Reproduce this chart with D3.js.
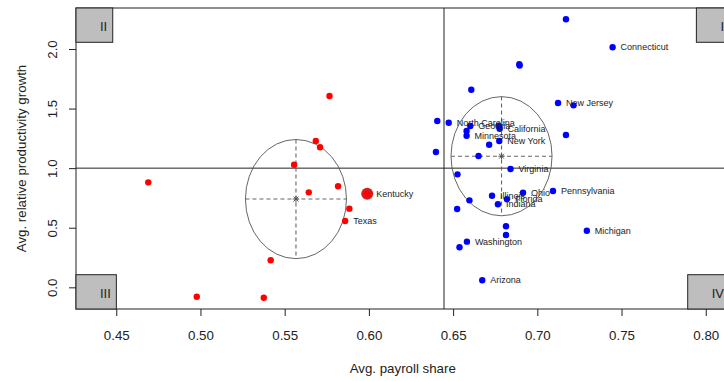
<!DOCTYPE html>
<html>
<head>
  <meta charset="UTF-8">
  <title>Payroll share vs productivity growth</title>
  <script src="https://cdn.jsdelivr.net/npm/d3@7"></script>
  <style>
    body { margin: 0; background: #fff; }
    svg { display: block; font-family: "Liberation Sans", Arial, sans-serif; }
  </style>
</head>
<body>

<div class="chart"></div>

<script>

  // high payroll share group (blue)
  var blueNames = ['', 'Connecticut', '', '', '', 'New Jersey', '', '', '', 'North Carolina',
    'Georgia', '', 'Minnesota', '', 'California', 'New York', '', '', '', 'Virginia',
    '', 'Ohio', 'Pennsylvania', 'Illinois', '', 'Florida', 'Indiana', '', '', '',
    'Washington', '', 'Arizona', 'Michigan'];
  var blueShare = [0.7170, 0.7447, 0.6893, 0.6895, 0.6608, 0.7123, 0.7215, 0.7170, 0.6406, 0.6474,
    0.6602, 0.6580, 0.6580, 0.6770, 0.6776, 0.6774, 0.6714, 0.6398, 0.6651, 0.6841,
    0.6526, 0.6915, 0.7093, 0.6731, 0.6597, 0.6820, 0.6766, 0.6524, 0.6814, 0.6814,
    0.6582, 0.6538, 0.6673, 0.7294];
  var blueGrowth = [2.249, 2.014, 1.872, 1.862, 1.658, 1.547, 1.527, 1.278, 1.396, 1.381,
    1.354, 1.312, 1.272, 1.356, 1.331, 1.228, 1.197, 1.136, 1.102, 0.993,
    0.948, 0.794, 0.808, 0.769, 0.730, 0.739, 0.697, 0.657, 0.512, 0.439,
    0.383, 0.336, 0.059, 0.475];

  // low payroll share group (red)
  var redNames = ['', '', '', '', '', '', '', '', '', '', '', 'Texas', 'Kentucky'];
  var redShare = [0.4690, 0.4978, 0.5376, 0.5417, 0.5556, 0.5643, 0.5685, 0.5710, 0.5766, 0.5817,
    0.5884, 0.5859, 0.5990];
  var redGrowth = [0.881, -0.079, -0.087, 0.227, 1.029, 0.797, 1.228, 1.175, 1.606, 0.848,
    0.660, 0.556, 0.786];

  var highlight = 'Kentucky';

  var xTicks = [0.45, 0.50, 0.55, 0.60, 0.65, 0.70, 0.75, 0.80];
  var yTicks = [0.0, 0.5, 1.0, 1.5, 2.0];
  var quadrants = ['I', 'II', 'III', 'IV'];

  var refShare = 0.6446;
  var refGrowth = 1.0;
  // ellipse half axes around each group mean
  var spreadShare = 0.03;
  var spreadGrowth = 0.5;

  var W = 724, H = 381;
  var plot = { left: 76, top: 8, right: 729.5, bottom: 309 };
  var ink = '#222';

  var svg = d3.select('.chart')
    .append('svg')
      .attr('width', W)
      .attr('height', H);

  svg.append('rect').attr('width', W).attr('height', H).attr('fill', '#fff');

  var x = d3.scaleLinear().domain([0.4261, 0.8141]).range([plot.left, plot.right]);
  var y = d3.scaleLinear().domain([-0.182, 2.344]).range([plot.bottom, plot.top]);

  function toPoints(names, share, growth) {
    return names.map((n, i) => ({ name: n, share: share[i], growth: growth[i] }));
  }
  var groups = [
    { color: '#ff0000', pts: toPoints(redNames, redShare, redGrowth) },
    { color: '#0000ff', pts: toPoints(blueNames, blueShare, blueGrowth) }
  ];

  // X axis
  svg.append('g')
      .attr('transform', `translate(0, ${plot.bottom})`)
    .call(d3.axisBottom(x).tickValues(xTicks).tickSize(7).tickFormat(d3.format('.2f')))
      .attr('font-family', null)
      .attr('font-size', 13.3)
      .attr('color', ink)
    .call(g => g.select('.domain').remove())
    .call(g => g.selectAll('text').attr('y', 31).attr('dy', null));

  // Y axis, labels turned like R does
  svg.append('g')
      .attr('transform', `translate(${plot.left}, 0)`)
    .call(d3.axisLeft(y).tickValues(yTicks).tickSize(7).tickFormat(d3.format('.1f')))
      .attr('font-family', null)
      .attr('font-size', 13.3)
      .attr('color', ink)
    .call(g => g.select('.domain').remove())
    .call(g => g.selectAll('text')
      .attr('x', null).attr('dy', null)
      .attr('text-anchor', 'middle')
      .attr('transform', 'translate(-18.7, 0) rotate(-90)'));

  // titles
  svg.append('text')
    .attr('x', (plot.left + plot.right) / 2)
    .attr('y', 372.5)
    .attr('text-anchor', 'middle')
    .attr('font-size', 13.3)
    .attr('fill', ink)
    .text('Avg. payroll share');

  svg.append('text')
    .attr('transform', `translate(25.5, ${(plot.top + plot.bottom) / 2}) rotate(-90)`)
    .attr('text-anchor', 'middle')
    .attr('font-size', 13.3)
    .attr('fill', ink)
    .text('Avg. relative productivity growth');

  // frame and reference lines
  svg.append('rect')
    .attr('x', plot.left).attr('y', plot.top)
    .attr('width', plot.right - plot.left).attr('height', plot.bottom - plot.top)
    .attr('fill', 'none').attr('stroke', ink);

  svg.append('line')
    .attr('x1', x(refShare)).attr('x2', x(refShare))
    .attr('y1', plot.top).attr('y2', plot.bottom)
    .attr('stroke', ink);
  svg.append('line')
    .attr('x1', plot.left).attr('x2', plot.right)
    .attr('y1', y(refGrowth)).attr('y2', y(refGrowth))
    .attr('stroke', ink);

  // group ellipses around the means
  groups.forEach(grp => {
    var mx = d3.mean(grp.pts, d => d.share);
    var my = d3.mean(grp.pts, d => d.growth);
    var cx = x(mx), cy = y(my);
    var rx = x(mx + spreadShare) - cx;
    var ry = cy - y(my + spreadGrowth);
    var g = svg.append('g');
    g.append('ellipse')
      .attr('cx', cx).attr('cy', cy).attr('rx', rx).attr('ry', ry)
      .attr('fill', 'none').attr('stroke', '#555').attr('stroke-width', 0.9);
    g.append('line')
      .attr('x1', cx - rx).attr('x2', cx + rx).attr('y1', cy).attr('y2', cy)
      .attr('stroke', '#666').attr('stroke-dasharray', '4,3').attr('stroke-width', 1.1);
    g.append('line')
      .attr('x1', cx).attr('x2', cx).attr('y1', cy - ry).attr('y2', cy + ry)
      .attr('stroke', '#666').attr('stroke-dasharray', '4,3').attr('stroke-width', 1.1);
    var s = 3.2;
    g.append('path')
      .attr('d', `M${cx - s},${cy}H${cx + s}M${cx},${cy - s}V${cy + s}` +
                 `M${cx - s * 0.75},${cy - s * 0.75}L${cx + s * 0.75},${cy + s * 0.75}` +
                 `M${cx - s * 0.75},${cy + s * 0.75}L${cx + s * 0.75},${cy - s * 0.75}`)
      .attr('stroke', '#555').attr('fill', 'none');
  });

  // points and state labels
  groups.forEach(grp => {
    var g = svg.append('g');
    g.selectAll('.big')
      .data(grp.pts.filter(d => d.name === highlight))
      .enter()
      .append('circle')
        .attr('cx', d => x(d.share))
        .attr('cy', d => y(d.growth))
        .attr('r', 6)
        .attr('fill', '#d41f1f');
    g.selectAll('.dot')
      .data(grp.pts)
      .enter()
      .append('circle')
        .attr('cx', d => x(d.share))
        .attr('cy', d => y(d.growth))
        .attr('r', 3.2)
        .attr('fill', grp.color);
    g.selectAll('.lab')
      .data(grp.pts.filter(d => d.name))
      .enter()
      .append('text')
        .attr('x', d => x(d.share) + (d.name === highlight ? 9 : 8))
        .attr('y', d => y(d.growth))
        .attr('dy', '0.35em')
        .attr('font-size', 9)
        .attr('fill', ink)
        .text(d => d.name);
  });

  // quadrant tags in the corners
  var boxH = 34.3;
  quadrants.forEach((q, i) => {
    var right = (i === 0 || i === 3);
    var top = (i === 0 || i === 1);
    var g = svg.append('g');
    var t = g.append('text')
      .attr('font-size', 13)
      .attr('fill', ink)
      .text(q);
    var w = 24 + t.node().getComputedTextLength() + 5.5;
    var bx = right ? plot.right - w : plot.left;
    var by = top ? plot.top : plot.bottom - boxH;
    g.insert('rect', 'text')
      .attr('x', bx).attr('y', by).attr('width', w).attr('height', boxH)
      .attr('fill', '#bebebe').attr('stroke', ink);
    t.attr('x', bx + 24).attr('y', by + 23);
  });

</script>

</body>
</html>
